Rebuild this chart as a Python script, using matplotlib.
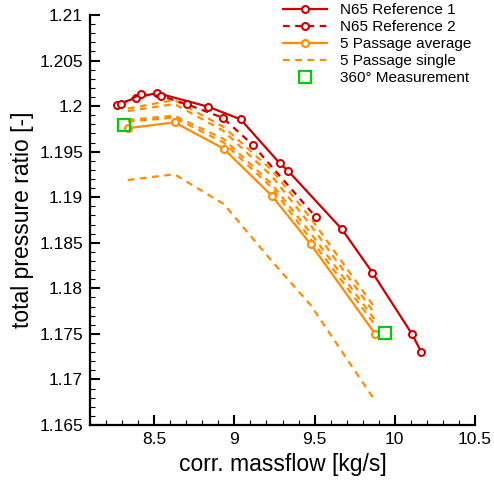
# imports
import matplotlib
matplotlib.use('Agg')
import matplotlib.pyplot as plt
from matplotlib.ticker import MultipleLocator

plt.rcParams['font.family'] = ['Liberation Sans', 'DejaVu Sans']

# N65 reference runs
ref1_x = [8.267, 8.388, 8.517, 8.836, 9.039, 9.283, 9.334, 9.671, 9.861, 10.106, 10.164]
ref1_y = [1.20016, 1.20092, 1.20144, 1.19994, 1.19855, 1.19372, 1.19291, 1.18648, 1.18172, 1.17502, 1.17305]
ref2_x = [8.292, 8.417, 8.544, 8.704, 8.927, 9.113, 9.506]
ref2_y = [1.20023, 1.20130, 1.20111, 1.20020, 1.19873, 1.19577, 1.18786]

# 5 passage average
avg_x = [8.336, 8.627, 8.933, 9.233, 9.475, 9.877]
avg_y = [1.19757, 1.19822, 1.19533, 1.19017, 1.18487, 1.17502]

# 5 single passages (same massflow points as the average)
single_y = [
    [1.19974, 1.20067, 1.19771, 1.19299, 1.18772, 1.17784],
    [1.19946, 1.20023, 1.19727, 1.19233, 1.18695, 1.17718],
    [1.19848, 1.19895, 1.19639, 1.19145, 1.18607, 1.17652],
    [1.19831, 1.19873, 1.19600, 1.19106, 1.18542, 1.17598],
    [1.19189, 1.19252, 1.18926, 1.18300, 1.17817, 1.16767],
]

# measurement
meas_x = [8.3125, 9.939]
meas_y = [1.19793, 1.17506]

red = '#cc0000'
orange = '#ff8c00'
green = '#00cc00'

fig = plt.figure(figsize=(4.94, 4.82), dpi=100)
ax = fig.add_axes([90/494, 1-425/482, 385/494, 410/482])

ax.plot(ref1_x, ref1_y, '-', color=red, lw=1.6, marker='o', ms=5, mfc='white',
        mec=red, mew=1.5, label='N65 Reference 1', zorder=4)
ax.plot(ref2_x, ref2_y, color=red, lw=1.6, ls=(0, (3, 2.5)), marker='o', ms=5,
        mfc='white', mec=red, mew=1.5, label='N65 Reference 2', zorder=4)
ax.plot(avg_x, avg_y, '-', color=orange, lw=1.6, marker='o', ms=5, mfc='white',
        mec=orange, mew=1.5, label='5 Passage average', zorder=3)
for i, sy in enumerate(single_y):
    ax.plot(avg_x, sy, color=orange, lw=1.6, ls=(0, (3, 2.5)),
            label='5 Passage single' if i == 0 else None, zorder=2)
ax.plot(meas_x, meas_y, 's', ms=8, mfc='none', mec=green, mew=1.6,
        label='360° Measurement', zorder=5)

ax.set_xlim(8.1, 10.5)
ax.set_ylim(1.165, 1.21)
ax.xaxis.set_major_locator(MultipleLocator(0.5))
ax.xaxis.set_minor_locator(MultipleLocator(0.1))
ax.yaxis.set_major_locator(MultipleLocator(0.005))
ax.yaxis.set_minor_locator(MultipleLocator(0.001))
ax.set_xticks([8.5, 9, 9.5, 10, 10.5])
ax.set_xticklabels(['8.5', '9', '9.5', '10', '10.5'])
ax.set_yticks([1.165, 1.17, 1.175, 1.18, 1.185, 1.19, 1.195, 1.2, 1.205, 1.21])
ax.set_yticklabels(['1.165', '1.17', '1.175', '1.18', '1.185', '1.19', '1.195', '1.2', '1.205', '1.21'])

ax.spines['top'].set_visible(False)
ax.spines['right'].set_visible(False)
for s in ['left', 'bottom']:
    ax.spines[s].set_linewidth(1.6)
ax.tick_params(which='major', direction='in', length=7, width=1.5, labelsize=12.5, pad=5)
ax.tick_params(which='minor', direction='in', length=3.5, width=0.8)

ax.set_xlabel('corr. massflow [kg/s]', fontsize=16.5)
ax.set_ylabel('total pressure ratio [-]', fontsize=16.5)

fig.legend(loc='upper left', bbox_to_anchor=(283/494, 1-3/482), frameon=False,
           fontsize=11, handlelength=2.9, handletextpad=0.8, labelspacing=0.2,
           borderpad=0, borderaxespad=0)

fig.savefig('out.png', dpi=100)
